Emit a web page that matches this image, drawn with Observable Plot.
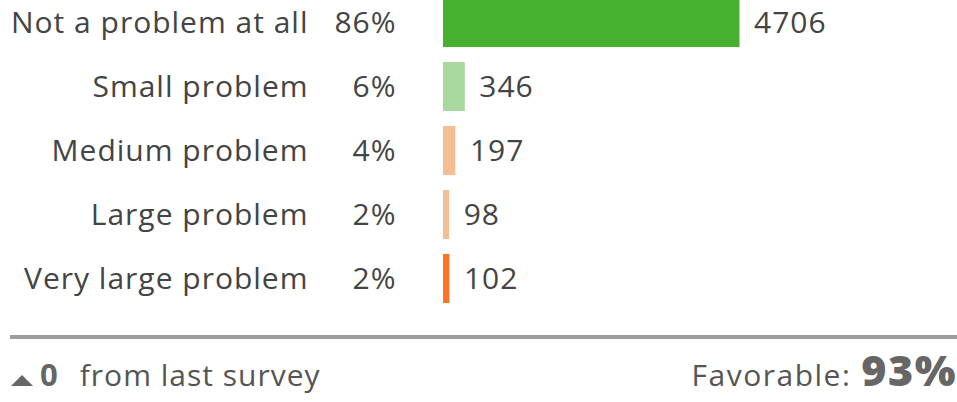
<!DOCTYPE html>
<html>
<head>
<meta charset="utf-8">
<script src="https://cdn.jsdelivr.net/npm/d3@7"></script>
<script src="https://cdn.jsdelivr.net/npm/@observablehq/plot@0.6"></script>
<style>
  html, body { margin: 0; padding: 0; background: #fff; }
  body { width: 957px; height: 402px; position: relative; overflow: hidden; font-family: "Open Sans", sans-serif; }
  #chart svg { display: block; margin-top: -2px; }
  #chart svg text { letter-spacing: 1px; }
  #sep { position: absolute; left: 10px; top: 335px; width: 947px; height: 4px; background: #9d9d9d; }
  #footer { position: absolute; left: 11px; right: 0px; top: 348px; display: flex; justify-content: space-between; align-items: baseline; color: #555; line-height: 1; }
  #footer .grp { display: flex; align-items: baseline; }
  .tri { display: inline-block; width: 0; height: 0; border-left: 11px solid transparent; border-right: 11px solid transparent; border-bottom: 11px solid #666; margin-bottom: 7px; }
  .chg { font-size: 31px; font-weight: 700; color: #666; margin-left: 7px; }
  .txt { font-size: 30px; margin-left: 22px; letter-spacing: 1px; }
  .fav { font-size: 30px; letter-spacing: 1.5px; }
  .big { font-size: 43px; font-weight: 800; color: #666; margin-left: 10px; letter-spacing: 1.5px; }
</style>
</head>
<body>
<div id="chart"></div>
<div id="sep"></div>
<div id="footer">
  <div class="grp"><span class="tri"></span><span class="chg" id="chg"></span><span class="txt" id="chgtxt"></span></div>
  <div class="grp"><span class="fav" id="favlbl"></span><span class="big" id="fav"></span></div>
</div>
<script>
const categories = ["Not a problem at all", "Small problem", "Medium problem", "Large problem", "Very large problem"];
const counts = [4706, 346, 197, 98, 102];
const percents = [86, 6, 4, 2, 2];
const colors = ["#48b02f", "#a9d89f", "#f5bf95", "#f5bf95", "#fd7328"];
const changeFromLast = 0;
const changeLabel = "from last survey";
const favorableLabel = "Favorable:";
const favorablePct = 93;

const data = categories.map((c, i) => ({category: c, count: counts[i], pct: percents[i]}));

const chart = Plot.plot({
  width: 957,
  height: 326,
  marginLeft: 443,
  marginRight: 217.5,
  marginTop: 0,
  marginBottom: 19.7,
  style: {fontFamily: "'Open Sans', sans-serif", color: "#444", background: "#fff"},
  x: {domain: [0, 4706], axis: null},
  y: {domain: categories, axis: null, paddingInner: 0.229, paddingOuter: 0},
  color: {domain: categories, range: colors},
  marks: [
    Plot.barX(data, {x: "count", y: "category", fill: "category"}),
    Plot.text(data, {x: "count", y: "category", text: d => String(d.count), textAnchor: "start", dx: 14, fontSize: 30, fill: "#444"}),
    Plot.text(data, {y: "category", frameAnchor: "left", text: "category", textAnchor: "end", dx: -135, fontSize: 30, fill: "#444"}),
    Plot.text(data, {y: "category", frameAnchor: "left", text: d => d.pct + "%", textAnchor: "end", dx: -47, fontSize: 30, fill: "#444"})
  ]
});
document.getElementById("chart").appendChild(chart);
document.getElementById("chg").textContent = String(changeFromLast);
document.getElementById("chgtxt").textContent = changeLabel;
document.getElementById("favlbl").textContent = favorableLabel;
document.getElementById("fav").textContent = favorablePct + "%";
</script>
</body>
</html>
